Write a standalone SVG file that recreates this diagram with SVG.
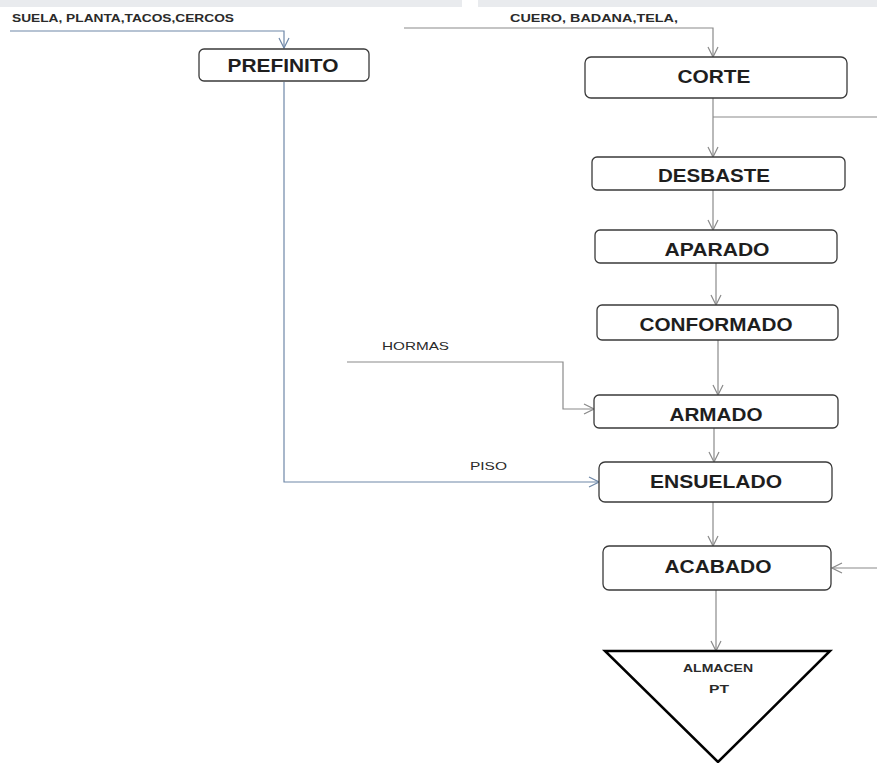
<svg xmlns="http://www.w3.org/2000/svg" width="877" height="763" viewBox="0 0 877 763">
  <style>
    .box { fill: #ffffff; stroke: #3a3a3a; stroke-width: 1.3; }
    .lbl { font-family: "Liberation Sans", Arial, sans-serif; font-weight: bold; font-size: 19px; fill: #1e1e1e; text-anchor: middle; }
    .in { font-family: "Liberation Sans", Arial, sans-serif; font-size: 11px; fill: #2a2a2a; }
    .inb { font-family: "Liberation Sans", Arial, sans-serif; font-weight: bold; font-size: 11px; fill: #2a2a2a; }
    .flow { fill: none; stroke: #8a8a8a; stroke-width: 1.2; marker-end: url(#arr); }
    .feedarr { fill: none; stroke: #6f88a8; stroke-width: 1.2; marker-end: url(#arrb); }
    .plain { fill: none; stroke: #8a8a8a; stroke-width: 1.2; }
  </style>
  <defs>
    <marker id="arr" viewBox="0 0 12 12" refX="11" refY="6" markerWidth="12" markerHeight="12" markerUnits="userSpaceOnUse" orient="auto">
      <path d="M1,1 L11,6 L1,11" fill="none" stroke="#8a8a8a" stroke-width="1.2"/>
    </marker>
    <marker id="arrb" viewBox="0 0 12 12" refX="11" refY="6" markerWidth="12" markerHeight="12" markerUnits="userSpaceOnUse" orient="auto">
      <path d="M1,1 L11,6 L1,11" fill="none" stroke="#6f88a8" stroke-width="1.2"/>
    </marker>
  </defs>

  <rect x="0" y="0" width="877" height="763" fill="#ffffff"/>
  <!-- faint header band -->
  <rect x="0" y="0" width="462" height="7" fill="#e9ebee"/>
  <rect x="478" y="0" width="399" height="7" fill="#e9ebee"/>

  <!-- connectors -->
  <g id="connectors">
    <!-- raw materials into PREFINITO -->
    <path class="feedarr" d="M10,31 H284 V48"/>
    <!-- leather into CORTE -->
    <path class="flow" d="M404,28 H713 V57"/>
    <!-- main line -->
    <path class="flow" d="M713,98 V157"/>
    <path class="plain" d="M713,117 H877"/>
    <path class="flow" d="M713,190 V230"/>
    <path class="flow" d="M716,263 V305"/>
    <path class="flow" d="M718,340 V395"/>
    <path class="flow" d="M714,428 V462"/>
    <path class="flow" d="M713,502 V546"/>
    <path class="flow" d="M716,590 V651"/>
    <!-- lasts into ARMADO -->
    <path class="flow" d="M347,362 H563 V409 H594"/>
    <!-- sole from PREFINITO into ENSUELADO -->
    <path class="feedarr" d="M284,82 V482 H599"/>
    <!-- return into ACABADO -->
    <path class="flow" d="M877,568 H832"/>
  </g>

  <g id="input-labels">
    <text class="inb" x="12" y="22" textLength="222" lengthAdjust="spacingAndGlyphs">SUELA, PLANTA,TACOS,CERCOS</text>
    <text class="inb" x="510" y="22" textLength="168" lengthAdjust="spacingAndGlyphs">CUERO, BADANA,TELA,</text>
    <text class="in" x="382" y="350" textLength="67" lengthAdjust="spacingAndGlyphs">HORMAS</text>
    <text class="in" x="470" y="470" textLength="37" lengthAdjust="spacingAndGlyphs">PISO</text>
  </g>

  <g id="prefinito">
    <rect class="box" x="199" y="49" width="170" height="32" rx="5"/>
    <text class="lbl" x="283" y="72" textLength="111" lengthAdjust="spacingAndGlyphs">PREFINITO</text>
  </g>
  <g id="corte">
    <rect class="box" x="585" y="57" width="262" height="41" rx="6"/>
    <text class="lbl" x="714" y="83" textLength="73" lengthAdjust="spacingAndGlyphs">CORTE</text>
  </g>
  <g id="desbaste">
    <rect class="box" x="592" y="157" width="253" height="33" rx="5"/>
    <text class="lbl" x="714" y="182" textLength="112" lengthAdjust="spacingAndGlyphs">DESBASTE</text>
  </g>
  <g id="aparado">
    <rect class="box" x="595" y="230" width="242" height="33" rx="5"/>
    <text class="lbl" x="717" y="256" textLength="105" lengthAdjust="spacingAndGlyphs">APARADO</text>
  </g>
  <g id="conformado">
    <rect class="box" x="597" y="305" width="241" height="35" rx="5"/>
    <text class="lbl" x="716" y="331" textLength="153" lengthAdjust="spacingAndGlyphs">CONFORMADO</text>
  </g>
  <g id="armado">
    <rect class="box" x="594" y="395" width="244" height="33" rx="5"/>
    <text class="lbl" x="716" y="421" textLength="93" lengthAdjust="spacingAndGlyphs">ARMADO</text>
  </g>
  <g id="ensuelado">
    <rect class="box" x="599" y="462" width="233" height="40" rx="6"/>
    <text class="lbl" x="716" y="488" textLength="132" lengthAdjust="spacingAndGlyphs">ENSUELADO</text>
  </g>
  <g id="acabado">
    <rect class="box" x="603" y="546" width="228" height="44" rx="6"/>
    <text class="lbl" x="718" y="573" textLength="107" lengthAdjust="spacingAndGlyphs">ACABADO</text>
  </g>
  <g id="almacen-pt">
    <polygon points="605,651 830,651 718,762" fill="#ffffff" stroke="#000000" stroke-width="2.5" stroke-linejoin="miter"/>
    <text class="inb" x="718" y="672" text-anchor="middle" textLength="70" lengthAdjust="spacingAndGlyphs">ALMACEN</text>
    <text class="inb" x="719" y="693" text-anchor="middle" textLength="20" lengthAdjust="spacingAndGlyphs">PT</text>
  </g>
</svg>
